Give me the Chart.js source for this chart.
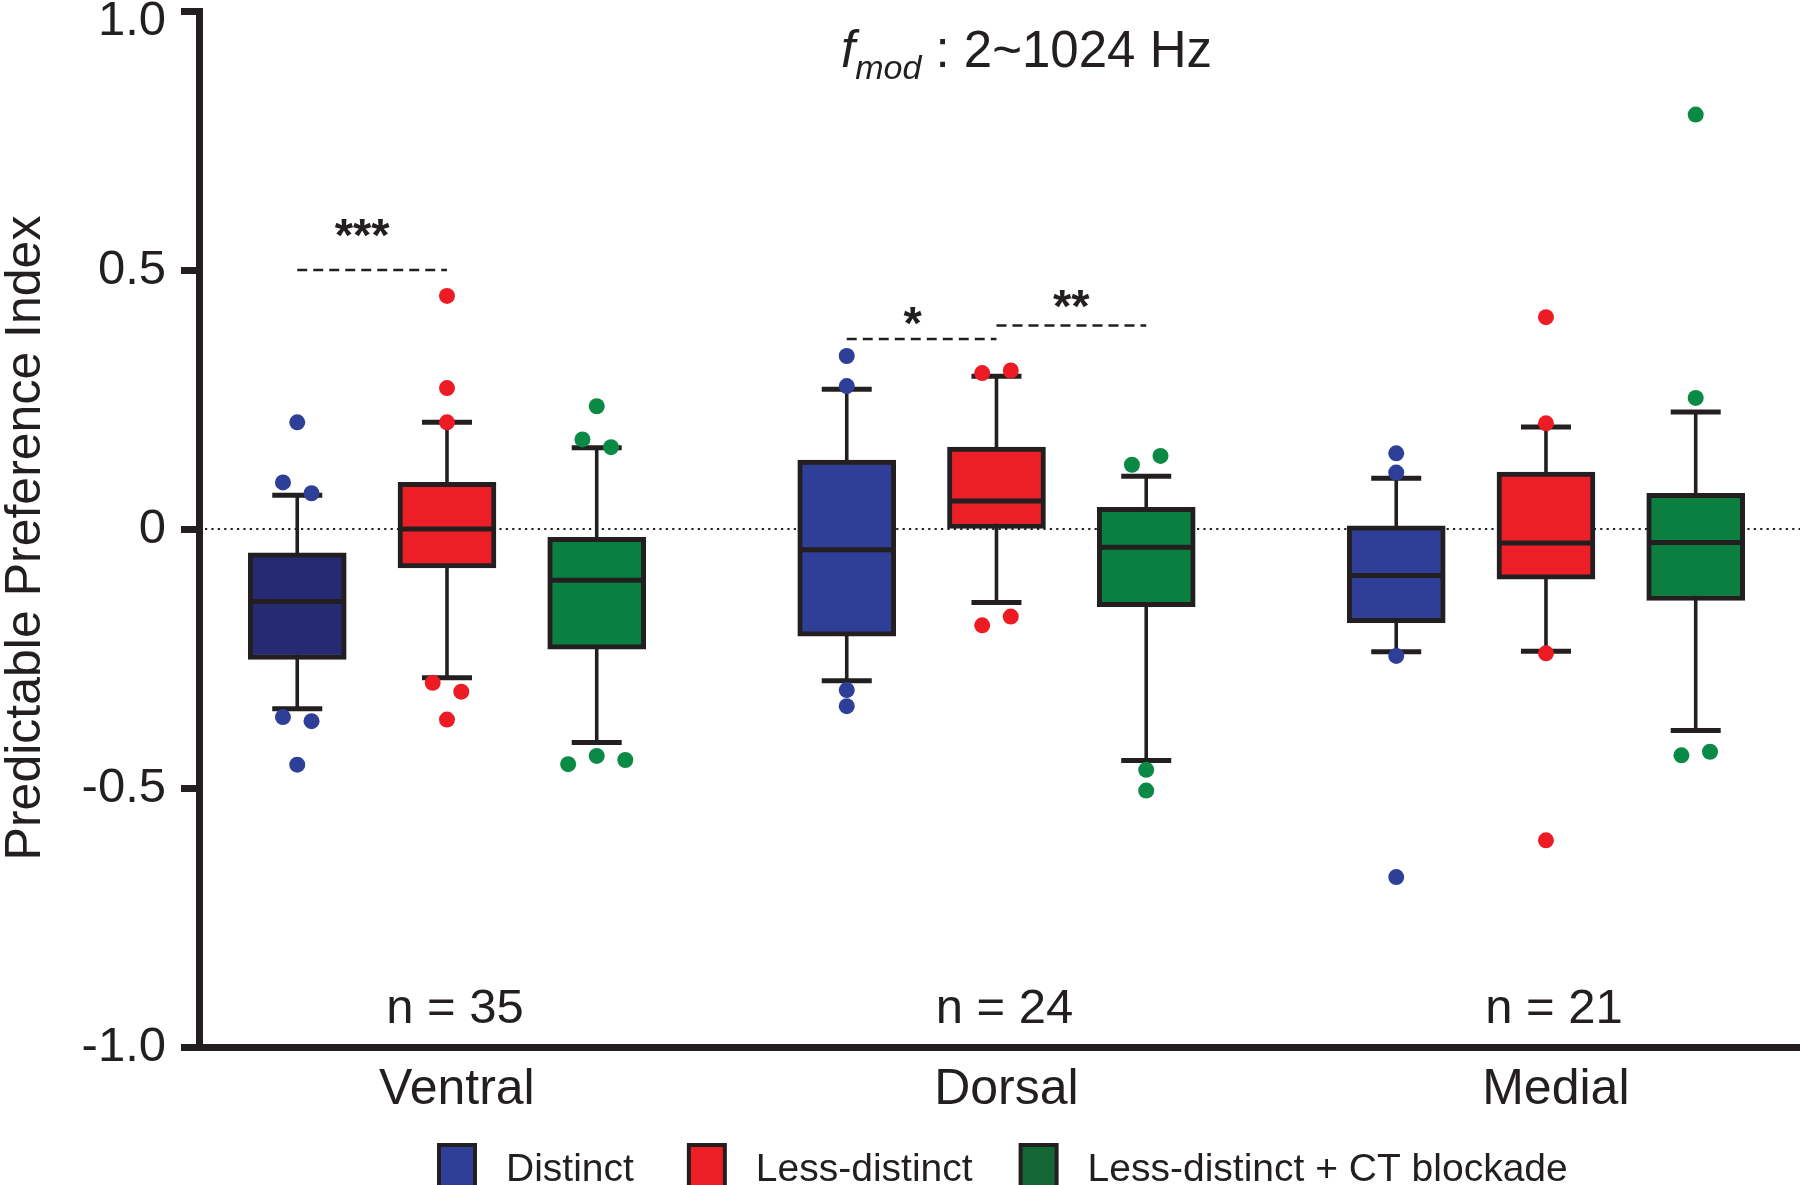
<!DOCTYPE html>
<html>
<head>
<meta charset="utf-8">
<script src="https://cdn.jsdelivr.net/npm/chart.js@4.4.1/dist/chart.umd.min.js"></script>
<style>
  html, body { margin: 0; padding: 0; background: #ffffff; }
  canvas { display: block; }
</style>
</head>
<body>
<canvas id="chart" width="1800" height="1185"></canvas>
<script>
// ---------------- data ----------------
const categories = ['Ventral', 'Dorsal', 'Medial'];
const sampleSizes = ['n = 35', 'n = 24', 'n = 21'];
const seriesNames = ['Distinct', 'Less-distinct', 'Less-distinct + CT blockade'];
const yTickValues = [-1, -0.5, 0, 0.5, 1];
const yTickLabels = ['-1.0', '-0.5', '0', '0.5', '1.0'];

// per category: [whisker low, Q1, median, Q3, whisker high]
const distinctBoxes = [
  [-0.347, -0.252, -0.140, -0.046, 0.065],
  [-0.293, -0.207, -0.040, 0.133, 0.270],
  [-0.237, -0.181, -0.090, 0.006, 0.098]
];
const lessDistinctBoxes = [
  [-0.287, -0.075, 0.000, 0.090, 0.206],
  [-0.142, 0.000, 0.054, 0.158, 0.295],
  [-0.236, -0.097, -0.027, 0.110, 0.197]
];
const ctBlockadeBoxes = [
  [-0.412, -0.232, -0.099, -0.016, 0.157],
  [-0.447, -0.150, -0.035, 0.042, 0.102],
  [-0.389, -0.138, -0.026, 0.069, 0.226]
];

// outliers per category (listed left to right inside tied groups)
const distinctOutliers = [
  [0.206, 0.090, 0.069, -0.363, -0.371, -0.455],
  [0.334, 0.276, -0.311, -0.342],
  [0.146, 0.109, -0.245, -0.672]
];
const lessDistinctOutliers = [
  [0.450, 0.272, 0.206, -0.297, -0.314, -0.368],
  [0.301, 0.306, -0.186, -0.169],
  [0.409, 0.204, -0.240, -0.601]
];
const ctBlockadeOutliers = [
  [0.237, 0.173, 0.158, -0.454, -0.438, -0.446],
  [0.124, 0.141, -0.465, -0.505],
  [0.800, 0.253, -0.437, -0.430]
];

// significance brackets
const sigCategory = [0, 1, 1];
const sigFromSeries = [0, 0, 1];
const sigToSeries = [1, 1, 2];
const sigLineValue = [0.500, 0.367, 0.393];
const sigLabelValue = [0.536, 0.367, 0.400];
const sigLabels = ['***', '*', '**'];

// ---------------- layout / style ----------------
const FONT = "'Liberation Sans', Arial, Helvetica, sans-serif";
const INK = '#231f20';
const X_MIN = -0.4513, X_MAX = 2.4623;
const SERIES_SHIFT = 0.2725;
const LABEL_NUDGE = 0.018;
const SLOT = 0.052;
const CLUSTER_GAP = 0.025;
const boxColors = [['#262a73', '#2f3f98', '#2f3f98'], '#ec1f26', '#0a7f40'];
const dotColors = ['#2e3f98', '#ed1c24', '#0a8a45'];
const legendColors = ['#2f3f98', '#ec1f26', '#136735'];

const seriesBoxes = [distinctBoxes, lessDistinctBoxes, ctBlockadeBoxes];
const seriesOutliers = [distinctOutliers, lessDistinctOutliers, ctBlockadeOutliers];

function seriesX(cat, s) { return cat + (s - 1) * SERIES_SHIFT; }

function spreadPoints(values, cat, s) {
  const pts = [];
  let k = 0;
  while (k < values.length) {
    let end = k;
    while (end + 1 < values.length && Math.abs(values[end + 1] - values[end]) < CLUSTER_GAP) end++;
    const n = end - k + 1;
    for (let m = 0; m < n; m++) {
      pts.push({ x: seriesX(cat, s) + (m - (n - 1) / 2) * SLOT, y: values[k + m] });
    }
    k = end + 1;
  }
  return pts;
}

const datasets = [];
seriesBoxes.forEach((boxes, s) => {
  datasets.push({
    type: 'bar',
    label: seriesNames[s],
    data: boxes.map((b, i) => ({ x: seriesX(i, s), y: [b[1], b[3]] })),
    backgroundColor: boxColors[s],
    borderColor: INK,
    borderWidth: 5,
    borderSkipped: false,
    barThickness: 98,
    grouped: false,
    order: 2
  });
});
seriesOutliers.forEach((lists, s) => {
  datasets.push({
    type: 'scatter',
    label: seriesNames[s] + ' (outliers)',
    data: lists.flatMap((vals, i) => spreadPoints(vals, i, s)),
    pointBackgroundColor: dotColors[s],
    backgroundColor: dotColors[s],
    pointBorderWidth: 0,
    borderWidth: 0,
    pointRadius: 8,
    pointHoverRadius: 8,
    showLine: false,
    order: 1
  });
});

function strokeLine(ctx, x1, y1, x2, y2) {
  ctx.beginPath(); ctx.moveTo(x1, y1); ctx.lineTo(x2, y2); ctx.stroke();
}

const boxPlotPlugin = {
  id: 'boxPlotParts',
  beforeDatasetsDraw(chart) {
    const { ctx, chartArea, scales: { x, y } } = chart;
    ctx.save();
    // dotted zero reference
    ctx.strokeStyle = INK;
    ctx.lineWidth = 2.2;
    ctx.setLineDash([2.2, 4.2]);
    const y0 = y.getPixelForValue(0);
    strokeLine(ctx, chartArea.left + 6, y0, chartArea.right, y0);
    ctx.setLineDash([]);
    // whiskers and caps
    seriesBoxes.forEach((boxes, s) => {
      boxes.forEach((b, i) => {
        const px = x.getPixelForValue(seriesX(i, s));
        const lo = y.getPixelForValue(b[0]);
        const hi = y.getPixelForValue(b[4]);
        ctx.lineWidth = 3.6;
        strokeLine(ctx, px, lo, px, hi);
        ctx.lineWidth = 5;
        strokeLine(ctx, px - 25, lo, px + 25, lo);
        strokeLine(ctx, px - 25, hi, px + 25, hi);
      });
    });
    // significance lines
    ctx.lineWidth = 2.5;
    ctx.setLineDash([10, 6]);
    sigLabels.forEach((lab, k) => {
      const xa = x.getPixelForValue(seriesX(sigCategory[k], sigFromSeries[k]));
      const xb = x.getPixelForValue(seriesX(sigCategory[k], sigToSeries[k]));
      const py = y.getPixelForValue(sigLineValue[k]);
      strokeLine(ctx, xa, py, xb, py);
    });
    ctx.restore();
  },
  afterDatasetsDraw(chart) {
    const { ctx, scales: { x, y } } = chart;
    ctx.save();
    ctx.strokeStyle = INK;
    ctx.lineWidth = 5;
    seriesBoxes.forEach((boxes, s) => {
      boxes.forEach((b, i) => {
        const px = x.getPixelForValue(seriesX(i, s));
        const py = y.getPixelForValue(b[2]);
        strokeLine(ctx, px - 47, py, px + 47, py);
      });
    });
    ctx.restore();
  },
  afterDraw(chart) {
    const { ctx, chartArea, scales: { x, y } } = chart;
    ctx.save();
    ctx.fillStyle = INK;

    // y tick labels
    ctx.font = `49px ${FONT}`;
    ctx.textAlign = 'right';
    ctx.textBaseline = 'middle';
    yTickValues.forEach((v, k) => {
      const py = Math.max(y.getPixelForValue(v), 21);
      ctx.fillText(yTickLabels[k], chartArea.left - 33, py);
    });

    // y axis title
    ctx.save();
    ctx.font = `50px ${FONT}`;
    ctx.textAlign = 'center';
    ctx.textBaseline = 'alphabetic';
    ctx.translate(40, (chartArea.top + chartArea.bottom) / 2 + 9);
    ctx.rotate(-Math.PI / 2);
    ctx.fillText('Predictable Preference Index', 0, 0);
    ctx.restore();

    // title  f_mod : 2~1024 Hz
    ctx.textAlign = 'left';
    ctx.textBaseline = 'alphabetic';
    const parts = [
      { t: 'f', f: `italic 51px ${FONT}`, dy: 0 },
      { t: 'mod', f: `italic 34px ${FONT}`, dy: 12 },
      { t: ' : 2~1024 Hz', f: `51px ${FONT}`, dy: 0 }
    ];
    let total = 0;
    parts.forEach(p => { ctx.font = p.f; p.w = ctx.measureText(p.t).width; total += p.w; });
    let tx = (chartArea.left + chartArea.right) / 2 + 27 - total / 2;
    const ty = 67;
    parts.forEach(p => { ctx.font = p.f; ctx.fillText(p.t, tx, ty + p.dy); tx += p.w; });

    // sample sizes
    ctx.font = `49px ${FONT}`;
    ctx.textAlign = 'center';
    sampleSizes.forEach((t, i) => {
      ctx.fillText(t, x.getPixelForValue(i) + 8, y.getPixelForValue(-0.953));
    });

    // significance stars
    ctx.font = `bold 47px ${FONT}`;
    const starShift = [-10, -9, 0];
    sigLabels.forEach((lab, k) => {
      const xa = x.getPixelForValue(seriesX(sigCategory[k], sigFromSeries[k]));
      const xb = x.getPixelForValue(seriesX(sigCategory[k], sigToSeries[k]));
      ctx.fillText(lab, (xa + xb) / 2 + starShift[k], y.getPixelForValue(sigLabelValue[k]));
    });

    // legend
    ctx.font = `39px ${FONT}`;
    ctx.textAlign = 'left';
    const sq = 40, gapText = 29, gapItems = [53, 46];
    const widths = seriesNames.map(n => ctx.measureText(n).width);
    let lx = chartArea.left + 238;
    const top = 1143;
    seriesNames.forEach((n, k) => {
      ctx.fillStyle = INK;
      ctx.fillRect(lx, top, sq, 46);
      ctx.fillStyle = legendColors[k];
      ctx.fillRect(lx + 4, top + 4, sq - 8, 38);
      ctx.fillStyle = INK;
      ctx.fillText(n, lx + sq + gapText, 1181);
      lx += sq + gapText + widths[k] + (gapItems[k] || 0);
    });
    ctx.restore();
  }
};

Chart.defaults.font.family = FONT;
Chart.defaults.color = INK;

new Chart(document.getElementById('chart'), {
  type: 'bar',
  data: { datasets },
  options: {
    responsive: false,
    animation: false,
    events: [],
    layout: { autoPadding: false, padding: { top: 11, left: 0, right: 0, bottom: 0 } },
    plugins: { legend: { display: false }, tooltip: { enabled: false } },
    scales: {
      x: {
        type: 'linear',
        min: X_MIN,
        max: X_MAX,
        offset: false,
        grid: { display: false, drawTicks: false },
        border: { display: true, width: 7, color: INK },
        ticks: {
          font: { size: 50 },
          color: INK,
          padding: 13,
          maxRotation: 0,
          autoSkip: false,
          callback: v => categories[Math.round(v)]
        },
        afterBuildTicks: scale => { scale.ticks = categories.map((c, i) => ({ value: i + LABEL_NUDGE })); },
        afterFit: scale => { scale.height = 138; scale.paddingLeft = 0; scale.paddingRight = 0; }
      },
      y: {
        type: 'linear',
        min: -1,
        max: 1,
        ticks: { stepSize: 0.5, display: false },
        grid: { display: true, drawOnChartArea: false, drawTicks: true, tickLength: 18, tickWidth: 7, tickColor: INK },
        border: { display: true, width: 7, color: INK },
        afterFit: scale => { scale.width = 199; scale.paddingTop = 0; scale.paddingBottom = 0; }
      }
    }
  },
  plugins: [boxPlotPlugin]
});
</script>
</body>
</html>
